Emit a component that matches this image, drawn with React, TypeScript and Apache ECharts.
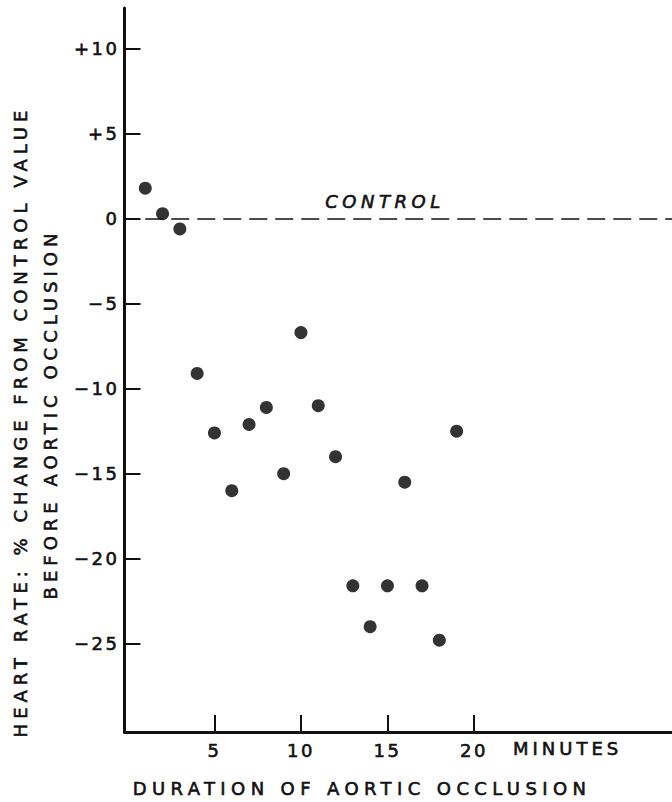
import React, { useEffect, useRef } from "react";
import * as echarts from "echarts";

// Duration of aortic occlusion (minutes)
const minutes = [1, 2, 3, 4, 5, 6, 7, 8, 9, 10, 11, 12, 13, 14, 15, 16, 17, 18, 19];
// Heart rate: % change from control value before aortic occlusion
const hrChange = [1.8, 0.3, -0.6, -9.1, -12.6, -16.0, -12.1, -11.1, -15.0, -6.7, -11.0, -14.0, -21.6, -24.0, -21.6, -15.5, -21.6, -24.8, -12.5];

const xTickValues = [5, 10, 15, 20];
const xTickLabels = ["5", "10", "15", "20"];
const yTickValues = [10, 5, 0, -5, -10, -15, -20, -25];
const yTickLabels = ["+10", "+5", "0", "\u22125", "\u221210", "\u221215", "\u221220", "\u221225"];

const controlValue = 0;
const controlStartMinute = 1;

const xTitle = "DURATION OF AORTIC OCCLUSION";
const xUnit = "MINUTES";
const yTitle1 = "HEART RATE: % CHANGE FROM CONTROL VALUE";
const yTitle2 = "BEFORE AORTIC OCCLUSION";
const controlLabel = "CONTROL";

const FONT = '"DejaVu Sans", "Liberation Sans", sans-serif';
const INK = "#111";
const STROKE_W = 0.6;

const X_MIN = -0.2;
const X_MAX = 31.45;
const Y_MIN = -30.2;
const Y_MAX = 12.4;

function spacingFor(t: string): number {
  if (t === xTitle) return 5.4;
  if (t === yTitle1 || t === yTitle2) return 5;
  if (t === xUnit) return 4;
  if (t === controlLabel) return 4.5;
  return 2.5;
}

function titleText(text: string, x: number, y: number, rotated: boolean, align: string, italic = false) {
  return {
    type: "text",
    x,
    y,
    rotation: rotated ? Math.PI / 2 : 0,
    style: {
      text,
      font: `${italic ? "italic " : ""}18px ${FONT}`,
      fill: INK,
      stroke: INK,
      lineWidth: STROKE_W,
      align,
      verticalAlign: "middle",
      textAlign: align,
      textVerticalAlign: "middle",
    },
  };
}

export default function App() {
  const ref = useRef<HTMLDivElement>(null);

  useEffect(() => {
    if (!ref.current) return;
    const chart = echarts.init(ref.current, null, { renderer: "svg" });

    const labelStyle = {
      fontFamily: FONT,
      fontSize: 18,
      color: INK,
      textBorderColor: INK,
      textBorderWidth: STROKE_W,
    };

    const option: any = {
      animation: false,
      backgroundColor: "#ffffff",
      textStyle: { fontFamily: FONT },
      grid: { left: 124.5, top: 8, width: 547.5, height: 724, containLabel: false },
      xAxis: {
        type: "value",
        min: X_MIN,
        max: X_MAX,
        axisLine: { show: true, onZero: false, lineStyle: { color: INK, width: 3 } },
        axisTick: {
          show: true,
          inside: true,
          length: 17,
          customValues: xTickValues,
          lineStyle: { color: INK, width: 2 },
        },
        axisLabel: {
          show: true,
          customValues: xTickValues,
          formatter: (v: number) => {
            const i = xTickValues.indexOf(v);
            return i >= 0 ? xTickLabels[i] : "";
          },
          ...labelStyle,
          margin: 9,
        },
        splitLine: { show: false },
      },
      yAxis: {
        type: "value",
        min: Y_MIN,
        max: Y_MAX,
        axisLine: { show: true, onZero: false, lineStyle: { color: INK, width: 3 } },
        axisTick: {
          show: true,
          inside: true,
          length: 16,
          customValues: yTickValues,
          lineStyle: { color: INK, width: 2 },
        },
        axisLabel: {
          show: true,
          customValues: yTickValues,
          formatter: (v: number) => {
            const i = yTickValues.indexOf(v);
            return i >= 0 ? yTickLabels[i] : "";
          },
          ...labelStyle,
          margin: 5,
        },
        splitLine: { show: false },
      },
      series: [
        {
          type: "scatter",
          data: minutes.map((m, i) => [m, hrChange[i]]),
          symbol: "circle",
          symbolSize: 13,
          itemStyle: { color: "#000" },
          silent: true,
          markLine: {
            silent: true,
            symbol: "none",
            label: { show: false },
            lineStyle: { type: [18, 8], color: INK, width: 1.5 },
            data: [[{ coord: [controlStartMinute, controlValue] }, { coord: [X_MAX, controlValue] }]],
          },
        },
      ],
      graphic: [
        titleText(yTitle1, 20, 421.5, true, "center"),
        titleText(yTitle2, 50, 414, true, "center"),
        titleText(xTitle, 362, 788, false, "center"),
        titleText(xUnit, 513, 748, false, "left"),
        titleText(controlLabel, 385, 201.5, false, "center", true),
      ],
    };

    chart.setOption(option);

    const applySpacing = () => {
      if (!ref.current) return;
      ref.current.querySelectorAll("text").forEach((el) => {
        const t = (el.textContent || "").trim();
        (el as SVGTextElement).style.letterSpacing = spacingFor(t) + "px";
      });
    };
    applySpacing();
    chart.on("finished", applySpacing);
    const timer = setTimeout(applySpacing, 50);

    return () => {
      clearTimeout(timer);
      chart.dispose();
    };
  }, []);

  return (
    <div
      ref={ref}
      style={{ position: "fixed", left: 0, top: 0, width: 672, height: 802, background: "#fff" }}
    />
  );
}
